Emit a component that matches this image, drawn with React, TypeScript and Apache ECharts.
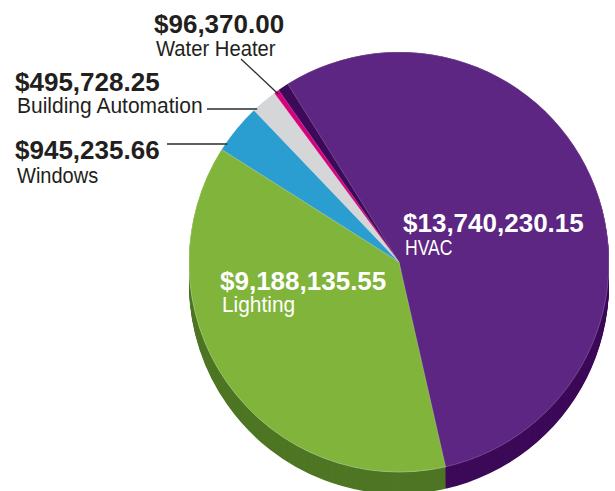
import React, { useEffect, useRef } from "react";
import * as echarts from "echarts";

const categories = ["HVAC", "Lighting", "Windows", "Building Automation", "Water Heater"];
const values = [13740230.15, 9188135.55, 945235.66, 495728.25, 96370.0];
const topColors = ["#5c2682", "#80b43b", "#2a9dd1", "#d5d6d8", "#d9007f"];
const sideColors = ["#3c0a58", "#4e7624", "#1d6e95", "#9fa0a2", "#990059"];

const CX = 399;
const CY = 262;
const R = 210;
const DEPTH = 22;
const START = 125;
const GAP = 3;

const VALUE_FONT = "'Liberation Sans', Arial, sans-serif";
const NAME_FONT = "'Liberation Sans', Arial, sans-serif";

const fmt = (v: number) =>
  "$" + v.toLocaleString("en-US", { minimumFractionDigits: 2, maximumFractionDigits: 2 });

export default function App() {
  const ref = useRef<HTMLDivElement>(null);
  useEffect(() => {
    if (!ref.current) return;
    const chart = echarts.init(ref.current, undefined, { renderer: "svg" });
    const total = values.reduce((a, b) => a + b, 0);
    const midAngle = (i: number) => {
      const before = values.slice(0, i).reduce((a, b) => a + b, 0);
      return ((START - ((before + values[i] / 2) / total) * 360) * Math.PI) / 180;
    };
    const polar = (a: number, r: number) => [CX + r * Math.cos(a), CY - r * Math.sin(a)];
    const circleX = (y: number) => CX - Math.sqrt(R * R - (CY - y) * (CY - y));

    const baseSeries = {
      type: "pie",
      radius: R,
      clockwise: true,
      silent: true,
      avoidLabelOverlap: false,
      label: { show: false },
      labelLine: { show: false },
      emphasis: { disabled: true },
    };
    const border = { borderColor: "rgba(255,255,255,0.35)", borderWidth: 0.6 };
    const hidden = { color: "rgba(0,0,0,0)", borderWidth: 0 };

    const series: any[] = [];
    for (let k = DEPTH; k >= 1; k--) {
      series.push({
        ...baseSeries,
        center: [CX, CY + k],
        startAngle: START,
        data: values.map((v, i) => ({ value: v, name: categories[i], itemStyle: { color: sideColors[i], borderWidth: 0 } })),
      });
    }
    series.push({
      ...baseSeries,
      center: [CX, CY],
      startAngle: START,
      data: values.map((v, i) => ({
        value: v,
        name: categories[i],
        itemStyle: i === 0 ? { color: sideColors[0], borderWidth: 0 } : { color: topColors[i], ...border },
      })),
    });
    series.push({
      ...baseSeries,
      center: [CX, CY],
      startAngle: START - GAP,
      data: values.map((v, i) => ({
        value: v,
        name: categories[i],
        itemStyle: i === 0 ? { color: topColors[0], ...border } : hidden,
      })),
    });
    series.push({
      ...baseSeries,
      center: [CX, CY],
      startAngle: START,
      data: values.map((v, i) => ({
        value: v,
        name: categories[i],
        itemStyle: i === 1 ? { color: topColors[1], ...border } : hidden,
      })),
    });

    const valText = (x: number, y: number, text: string, fill: string) => ({
      type: "text",
      x,
      y,
      z: 100,
      silent: true,
      style: { text, fill, font: `bold 26px ${VALUE_FONT}`, align: "left", verticalAlign: "middle" },
    });
    const nameText = (x: number, y: number, text: string, fill: string, sx = 0.9) => ({
      type: "text",
      x,
      y,
      scaleX: sx,
      z: 100,
      silent: true,
      style: { text, fill, font: `22px ${NAME_FONT}`, align: "left", verticalAlign: "middle" },
    });
    const dark = "#231f20";
    const white = "#ffffff";
    const whEnd = polar(midAngle(4), R - 3);
    const line = (x1: number, y1: number, x2: number, y2: number) => ({
      type: "line",
      z: 99,
      silent: true,
      shape: { x1, y1, x2, y2 },
      style: { stroke: "#2b2b2b", lineWidth: 1.3 },
    });

    const graphic = [
      valText(154, 24, fmt(values[4]), dark),
      nameText(156, 48, categories[4], dark, 0.92),
      line(241, 59, whEnd[0], whEnd[1]),
      valText(15, 82, fmt(values[3]), dark),
      nameText(17, 106, categories[3], dark, 0.955),
      line(207, 109, circleX(109) + 2, 109),
      valText(15, 150, fmt(values[2]), dark),
      nameText(17, 175, categories[2], dark, 0.91),
      line(167, 144, circleX(144) + 2, 144),
      valText(403, 223, fmt(values[0]), white),
      nameText(405, 247, categories[0], white, 0.8),
      valText(220, 281, fmt(values[1]), white),
      nameText(222, 305, categories[1], white, 0.95),
    ];

    chart.setOption({ animation: false, series, graphic });
    return () => chart.dispose();
  }, []);
  return (
    <div
      ref={ref}
      style={{ position: "fixed", left: 0, top: 0, width: 615, height: 491, background: "#ffffff" }}
    />
  );
}
